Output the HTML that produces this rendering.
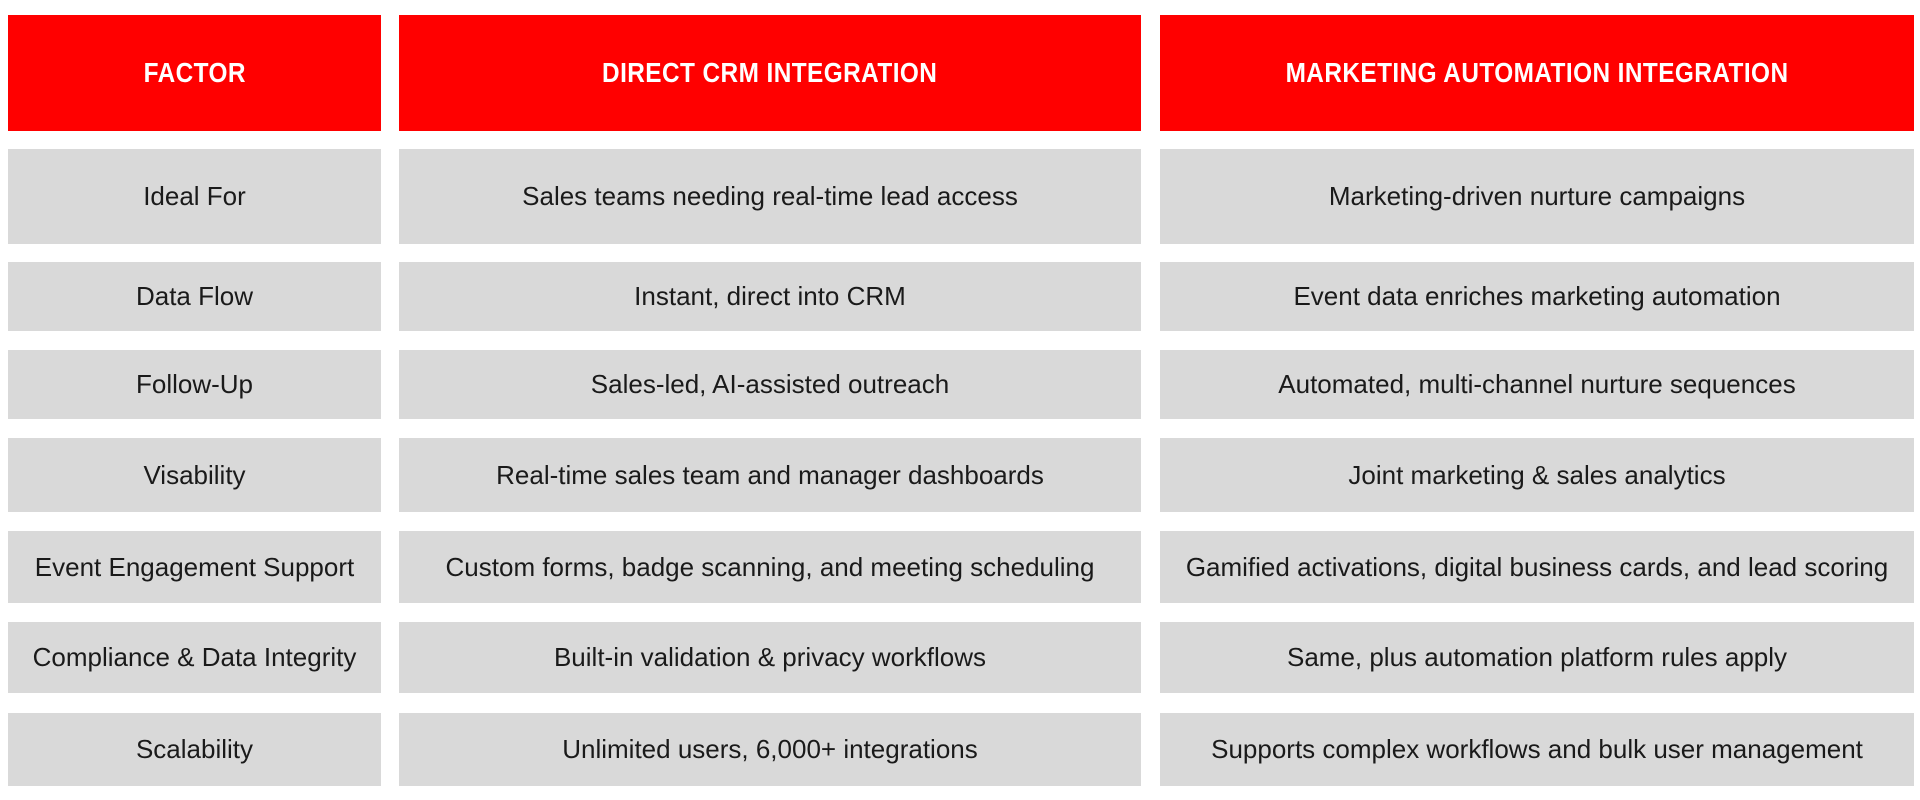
<!DOCTYPE html>
<html><head><meta charset="utf-8"><style>
html,body{margin:0;padding:0;background:#fff;width:1920px;height:800px;overflow:hidden}
.c{position:absolute;display:flex;align-items:center;justify-content:center;font-family:"Liberation Sans",sans-serif;font-size:26px;color:#1a1a1a;background:#d9d9d9;white-space:nowrap}
.h{background:#ff0000;color:#fff;font-weight:bold;font-size:28px}
.h span{display:inline-block;transform:scaleX(0.87);letter-spacing:0.5px}
</style></head><body>
<div class="c h" style="left:8px;top:15px;width:373px;height:116px"><span>FACTOR</span></div>
<div class="c h" style="left:399px;top:15px;width:742px;height:116px"><span>DIRECT CRM INTEGRATION</span></div>
<div class="c h" style="left:1160px;top:15px;width:754px;height:116px"><span>MARKETING AUTOMATION INTEGRATION</span></div>

<div class="c" style="left:8px;top:149px;width:373px;height:95px">Ideal For</div>
<div class="c" style="left:399px;top:149px;width:742px;height:95px">Sales teams needing real-time lead access</div>
<div class="c" style="left:1160px;top:149px;width:754px;height:95px">Marketing-driven nurture campaigns</div>

<div class="c" style="left:8px;top:262px;width:373px;height:69px">Data Flow</div>
<div class="c" style="left:399px;top:262px;width:742px;height:69px">Instant, direct into CRM</div>
<div class="c" style="left:1160px;top:262px;width:754px;height:69px">Event data enriches marketing automation</div>

<div class="c" style="left:8px;top:350px;width:373px;height:69px">Follow-Up</div>
<div class="c" style="left:399px;top:350px;width:742px;height:69px">Sales-led, AI-assisted outreach</div>
<div class="c" style="left:1160px;top:350px;width:754px;height:69px">Automated, multi-channel nurture sequences</div>

<div class="c" style="left:8px;top:438px;width:373px;height:74px">Visability</div>
<div class="c" style="left:399px;top:438px;width:742px;height:74px">Real-time sales team and manager dashboards</div>
<div class="c" style="left:1160px;top:438px;width:754px;height:74px">Joint marketing &amp; sales analytics</div>

<div class="c" style="left:8px;top:531px;width:373px;height:72px">Event Engagement Support</div>
<div class="c" style="left:399px;top:531px;width:742px;height:72px">Custom forms, badge scanning, and meeting scheduling</div>
<div class="c" style="left:1160px;top:531px;width:754px;height:72px">Gamified activations, digital business cards, and lead scoring</div>

<div class="c" style="left:8px;top:622px;width:373px;height:71px">Compliance &amp; Data Integrity</div>
<div class="c" style="left:399px;top:622px;width:742px;height:71px">Built-in validation &amp; privacy workflows</div>
<div class="c" style="left:1160px;top:622px;width:754px;height:71px">Same, plus automation platform rules apply</div>

<div class="c" style="left:8px;top:713px;width:373px;height:73px">Scalability</div>
<div class="c" style="left:399px;top:713px;width:742px;height:73px">Unlimited users, 6,000+ integrations</div>
<div class="c" style="left:1160px;top:713px;width:754px;height:73px">Supports complex workflows and bulk user management</div>
</body></html>
